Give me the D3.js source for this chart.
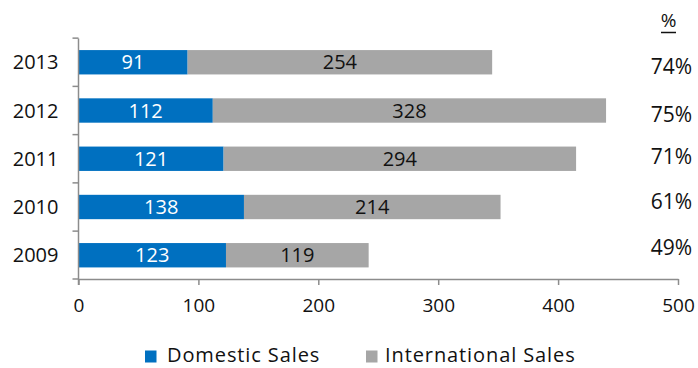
<!DOCTYPE html>
<html><head><meta charset="utf-8">
<script src="https://cdn.jsdelivr.net/npm/d3@7"></script>
<style>body{margin:0;background:#fff}svg{display:block}</style>
</head><body>
<script>
const years = ["2013","2012","2011","2010","2009"];
const domestic = [91,112,121,138,123];
const international = [254,328,294,214,119];
const pctLabels = ["74%","75%","71%","61%","49%"];
const xTicks = [0,100,200,300,400,500];
const seriesNames = ["Domestic Sales","International Sales"];
const colors = ["#0070C0","#A6A6A6"];

const W=698,H=368;
const svg=d3.select("body").append("svg").attr("width",W).attr("height",H);
const x=d3.scaleLinear().domain([0,500]).range([78.5,678]);
const y=d3.scaleBand().domain(years).range([38.5,279]).paddingInner(0.495).paddingOuter(0.24);
const font="'Open Sans', 'Noto Sans', sans-serif";

const rows=years.map((yr,i)=>({yr,d:domestic[i],n:international[i],p:pctLabels[i]}));

// bars
const g=svg.append("g");
g.selectAll("rect.dom").data(rows).join("rect")
 .attr("x",x(0)).attr("y",d=>y(d.yr)).attr("width",d=>x(d.d)-x(0)).attr("height",y.bandwidth()).attr("fill",colors[0]);
g.selectAll("rect.int").data(rows).join("rect")
 .attr("x",d=>x(d.d)).attr("y",d=>y(d.yr)).attr("width",d=>x(d.d+d.n)-x(d.d)).attr("height",y.bandwidth()).attr("fill",colors[1]);
g.selectAll("text.dl").data(rows).join("text")
 .attr("x",d=>(x(0)+x(d.d))/2).attr("y",d=>y(d.yr)+y.bandwidth()/2).attr("dy","0.36em")
 .attr("text-anchor","middle").attr("fill","#fff").style("font-family",font).style("font-size","20px").text(d=>d.d);
g.selectAll("text.il").data(rows).join("text")
 .attr("x",d=>(x(d.d)+x(d.d+d.n))/2).attr("y",d=>y(d.yr)+y.bandwidth()/2).attr("dy","0.36em")
 .attr("text-anchor","middle").attr("fill","#111").style("font-family",font).style("font-size","20px").text(d=>d.n);

// axes
const axCol="#8c8c8c";
const xa=svg.append("g").attr("transform","translate(0,279)")
 .call(d3.axisBottom(x).tickValues(xTicks).tickSize(6).tickPadding(13.5).tickSizeOuter(0));
xa.select(".domain").attr("stroke",axCol).attr("stroke-width",1.5);
xa.selectAll(".tick line").attr("stroke",axCol).attr("stroke-width",1.5);
xa.selectAll("text").style("font-family",font).style("font-size","19px").attr("fill","#111");

// y axis line with boundary ticks
const yTickPos=[...years.map(yr=>y(yr)-y.step()*y.paddingInner()/2), 279];
svg.append("line").attr("x1",x(0)).attr("x2",x(0)).attr("y1",38.5).attr("y2",285).attr("stroke",axCol).attr("stroke-width",1.5);
svg.selectAll("line.yt").data(yTickPos).join("line")
 .attr("x1",x(0)-6).attr("x2",x(0)).attr("y1",d=>d).attr("y2",d=>d).attr("stroke",axCol).attr("stroke-width",1.5);
svg.selectAll("text.yl").data(rows).join("text")
 .attr("x",58.5).attr("y",d=>y(d.yr)+y.bandwidth()/2).attr("dy","0.36em").attr("text-anchor","end")
 .attr("fill","#111").style("font-family",font).style("font-size","20px").text(d=>d.yr);

// percentages
const pctY=[66,114,156.7,201.8,247];
svg.append("text").attr("x",668.5).attr("y",27).attr("text-anchor","middle").attr("fill","#111")
 .style("font-family",font).style("font-size","19px").text("%");
svg.append("line").attr("x1",661).attr("x2",676).attr("y1",32.5).attr("y2",32.5).attr("stroke","#111").attr("stroke-width",1.5);
svg.selectAll("text.pc").data(rows).join("text")
 .attr("x",692).attr("y",(d,i)=>pctY[i]).attr("dy","0.36em").attr("text-anchor","end").attr("fill","#111")
 .style("font-family",font).style("font-size","21px").text(d=>d.p);

// legend
const leg=[{x:145,tx:167},{x:366,tx:385}];
seriesNames.forEach((s,i)=>{
  svg.append("rect").attr("x",leg[i].x).attr("y",350.5).attr("width",11.5).attr("height",12).attr("fill",colors[i]);
  svg.append("text").attr("x",leg[i].tx).attr("y",362).attr("fill","#111")
   .style("font-family",font).style("font-size","20px").style("letter-spacing","0.9px").text(s);
});
</script>
</body></html>
